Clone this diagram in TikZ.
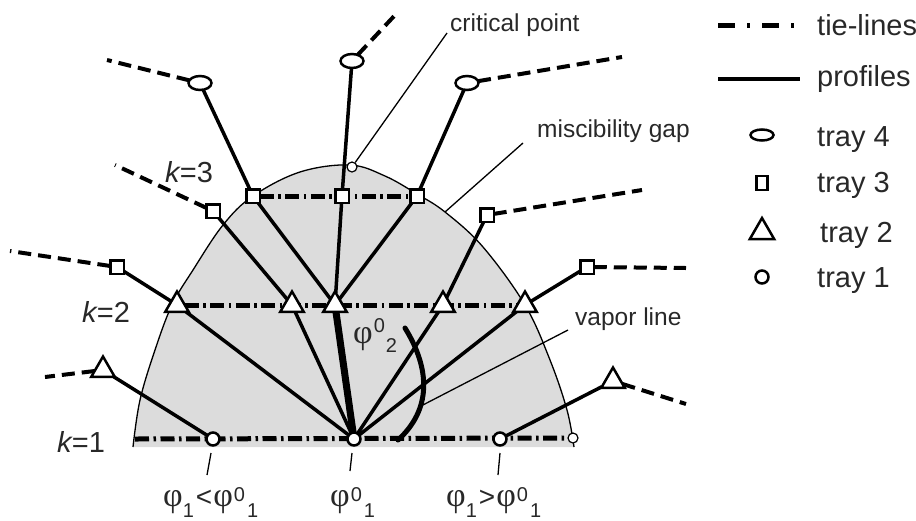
\documentclass[tikz,border=0pt]{standalone}
\usepackage{fontspec}
\setmainfont{Liberation Sans}
\newfontfamily\phifont{Liberation Serif}
\usetikzlibrary{shapes.geometric}
\definecolor{gapgray}{RGB}{220,220,220}
\definecolor{txt}{RGB}{40,40,40}
\pgfdeclarelayer{bg}
\pgfsetlayers{bg,main}
\newcommand{\ph}{{\phifont\fontsize{34}{34}\selectfont φ}}
\newcommand{\lo}[2][-11pt]{\raisebox{#1}{\fontsize{20}{20}\selectfont #2}}
\newcommand{\hi}[2][5pt]{\raisebox{#1}{\fontsize{20}{20}\selectfont #2}}
\tikzset{
 prof/.style={line width=3.5pt},
 tie/.style={line width=5pt, dash pattern=on 14pt off 4.5pt on 2.5pt off 4.5pt},
 legtie/.style={line width=5pt, dash pattern=on 17pt off 12pt on 3pt off 12pt},
 ext/.style={line width=4pt, dash pattern=on 13pt off 7pt},
 lead/.style={line width=1.3pt},
 mk/.style={draw, fill=white, line width=2.5pt, inner sep=0pt, outer sep=0pt},
 tfour/.style={mk, ellipse, minimum width=23pt, minimum height=14pt},
 tthree/.style={mk, rectangle, minimum size=13.5pt},
 ttwo/.style={mk, regular polygon, regular polygon sides=3, minimum size=27pt},
 tone/.style={mk, circle, minimum size=13pt},
 cpt/.style={draw, fill=white, line width=1.2pt, circle, minimum size=10pt, inner sep=0pt},
 lab/.style={text=txt, inner sep=0pt, anchor=base west, font=\fontsize{24.5}{28}\selectfont},
 leg/.style={text=txt, inner sep=0pt, anchor=base west, font=\fontsize{29}{32}\selectfont},
 phl/.style={text=txt, inner sep=0pt, anchor=base west, font=\fontsize{28}{30}\selectfont},
}
\begin{document}
\begin{tikzpicture}[x=1pt,y=-1pt]
\useasboundingbox (0,0) rectangle (916,520);
% markers
\node[tfour] (e1) at (200,83) {};
\node[tfour] (e2) at (352,61) {};
\node[tfour] (e3) at (467,83) {};
\node[tthree] (s1) at (253,196) {};
\node[tthree] (s2) at (342,196) {};
\node[tthree] (s3) at (417,196) {};
\node[tthree] (sa) at (213,211) {};
\node[tthree] (sb) at (487,215) {};
\node[tthree] (sc) at (117,267) {};
\node[tthree] (sd) at (587,267) {};
\node[ttwo] (t1) at (177,305) {};
\node[ttwo] (t2) at (292,305) {};
\node[ttwo] (t3) at (335,305) {};
\node[ttwo] (t4) at (443,305) {};
\node[ttwo] (t5) at (525,305) {};
\node[ttwo] (ta) at (103,370) {};
\node[ttwo] (tb) at (613,381) {};
\node[tone] (c1) at (213,439) {};
\node[tone] (c0) at (354,439) {};
\node[tone] (c2) at (500,439) {};
\node[cpt] (cr) at (573,438) {};
\node[cpt] (cp) at (352,167) {};
% free ends
\coordinate (de1) at (107,60);
\coordinate (de2) at (397,13);
\coordinate (de3) at (622,57);
\coordinate (dsa) at (115,165);
\coordinate (dsb) at (642,190);
\coordinate (dsc) at (10,251);
\coordinate (dsd) at (686,268);
\coordinate (dta) at (45,377);
\coordinate (dtb) at (686,404);
\coordinate (k1l) at (135,439);
\coordinate (va) at (405,328);
\coordinate (vb) at (398,440);
\begin{pgfonlayer}{bg}
\fill[gapgray] plot[smooth, tension=0.6] coordinates {(133,447) (140,400) (155,350) (172,305) (193,270) (223,225) (253,196) (300,172) (350,165) (385,176) (417,194) (445,212) (483,247) (525,305) (550,360) (567,410) (574,447)} -- cycle;
\draw[lead] plot[smooth, tension=0.6] coordinates {(133,447) (140,400) (155,350) (172,305) (193,270) (223,225) (253,196) (300,172) (350,165) (385,176) (417,194) (445,212) (483,247) (525,305) (550,360) (567,410) (574,447)};
% tie-lines
\draw[tie] (k1l) -- (cr);
\draw[tie] (t1) -- (t5);
\draw[tie] (s1) -- (s3);
% leaders
\draw[lead] (447,33) -- (cp);
\draw[lead] (523,143) -- (445,212);
\draw[lead] (568,330) -- (419,407);
\draw[lead] (211,453) -- (207,475);
\draw[lead] (352,453) -- (350,471);
\draw[lead] (500,453) -- (498,475);
% profiles
\draw[prof] (c1) -- (ta);
\draw[prof] (c2) -- (tb);
\draw[prof] (c0) -- (t1);
\draw[prof] (c0) -- (t2);
\draw[line width=7pt] (c0) -- (t3);
\draw[prof] (c0) -- (t4);
\draw[prof] (c0) -- (t5);
\draw[prof] (t1) -- (sc);
\draw[prof] (t2) -- (sa);
\draw[prof] (t3) -- (s1);
\draw[prof] (t3) -- (s2);
\draw[prof] (t3) -- (s3);
\draw[prof] (t4) -- (sb);
\draw[prof] (t5) -- (sd);
\draw[prof] (s1) -- (e1);
\draw[prof] (s2) -- (e2);
\draw[prof] (s3) -- (e3);
% dashed extensions
\draw[ext] (e1) -- (de1);
\draw[ext] (e2) -- (de2);
\draw[ext] (e3) -- (de3);
\draw[ext] (sa) -- (dsa);
\draw[ext] (sb) -- (dsb);
\draw[ext] (sc) -- (dsc);
\draw[ext] (sd) -- (dsd);
\draw[ext] (ta) -- (dta);
\draw[ext] (tb) -- (dtb);
% vapor line
\draw[line width=5pt, line cap=round] (va) .. controls (431,370) and (431,410) .. (vb);
\end{pgfonlayer}
% labels
\node[lab] at (450,31) {critical point};
\node[lab] at (537,137) {miscibility gap};
\node[lab] at (575,325) {vapor line};
\node[leg] at (165,182) {\textit{k}\kern-1pt=3};
\node[leg] at (82,322) {\textit{k}\kern-1pt=2};
\node[leg] at (57,452) {\textit{k}\kern-1pt=1};
\node[phl] at (353,343) {\ph\kern1pt\hi[11pt]{0}\kern1pt\lo[-9pt]{2}};
\node[phl] at (163,506) {\ph\lo{1}\kern2pt<\kern1pt\ph\kern1pt\hi{0}\kern2pt\lo{1}};
\node[phl] at (330,506) {\ph\kern1pt\hi{0}\kern2pt\lo{1}};
\node[phl] at (446,506) {\ph\lo{1}\kern2pt>\kern1pt\ph\kern1pt\hi{0}\kern2pt\lo{1}};
% legend
\coordinate (l1a) at (718,25); \coordinate (l1b) at (800,25);
\coordinate (l2a) at (718,79); \coordinate (l2b) at (800,79);
\draw[legtie] (l1a) -- (l1b);
\draw[prof] (l2a) -- (l2b);
\node[leg] at (817,35) {tie-lines};
\node[leg] at (817,86) {profiles};
\node[mk, ellipse, minimum width=23pt, minimum height=11pt] (g4) at (762,135) {};
\node[mk, rectangle, minimum width=11pt, minimum height=14pt] (g3) at (762,183) {};
\node[mk, regular polygon, regular polygon sides=3, minimum size=28pt] (g2) at (762,232) {};
\node[tone] (g1) at (762,277) {};
\node[leg] at (817,146) {tray 4};
\node[leg] at (817,192) {tray 3};
\node[leg] at (820,242) {tray 2};
\node[leg] at (817,287) {tray 1};
\end{tikzpicture}
\end{document}
